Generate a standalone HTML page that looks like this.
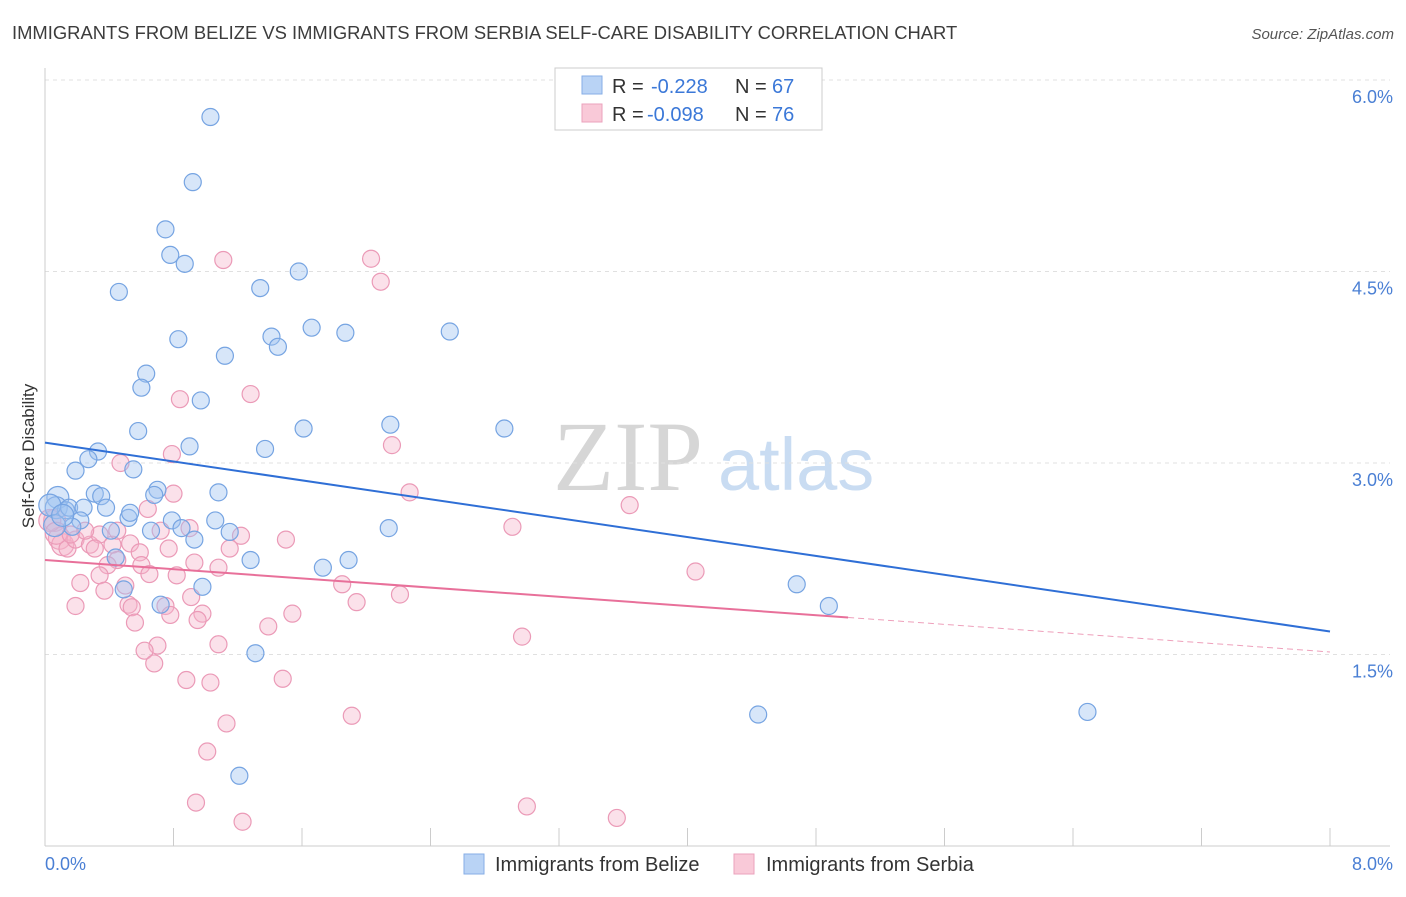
<!DOCTYPE html>
<html><head><meta charset="utf-8"><style>
body{margin:0;background:#fff;font-family:"Liberation Sans",sans-serif;}
</style></head><body>
<svg id="chart" width="1406" height="892" xmlns="http://www.w3.org/2000/svg" font-family="Liberation Sans, sans-serif">
<text x="12" y="39" font-size="18.4" fill="#3c3c3c">IMMIGRANTS FROM BELIZE VS IMMIGRANTS FROM SERBIA SELF-CARE DISABILITY CORRELATION CHART</text>
<text x="1394" y="39" font-size="15" fill="#555" font-style="italic" text-anchor="end">Source: ZipAtlas.com</text>
<g>
<text x="553" y="490" font-size="100" fill="#d6d6d6" font-family="Liberation Serif, serif">ZIP</text>
<text x="718" y="490" font-size="74" fill="#c9dcf2">atlas</text>
</g>
<g id="grid"></g>
<g id="axes"></g>
<g id="pts"></g>
<g id="trend"></g>
<text x="34" y="456" font-size="17" fill="#333" text-anchor="middle" transform="rotate(-90 34 456)">Self-Care Disability</text>
<g>
<rect x="555" y="68" width="267" height="62" fill="#fff" stroke="#ccc"/>
<rect x="582" y="76" width="20" height="18" fill="#b9d3f5" stroke="#86aee6"/>
<rect x="582" y="104" width="20" height="18" fill="#f9c9d8" stroke="#eba2bc"/>
<g font-size="20" fill="#333">
<text x="612" y="93">R =</text>
<text x="651" y="93" fill="#3b78d8">-0.228</text>
<text x="735" y="93">N =</text>
<text x="772" y="93" fill="#3b78d8">67</text>
<text x="612" y="121">R =</text>
<text x="647" y="121" fill="#3b78d8">-0.098</text>
<text x="735" y="121">N =</text>
<text x="772" y="121" fill="#3b78d8">76</text>
</g>
</g>
<g>
<rect x="464" y="854" width="20" height="20" fill="#b9d3f5" stroke="#86aee6"/>
<text x="495" y="871" font-size="20" fill="#333">Immigrants from Belize</text>
<rect x="734" y="854" width="20" height="20" fill="#f9c9d8" stroke="#eba2bc"/>
<text x="766" y="871" font-size="20" fill="#333">Immigrants from Serbia</text>
</g>
</svg>
<script>
const belizeX=[1.03,0.92,0.75,0.78,0.87,0.46,1.34,1.58,0.83,1.41,1.66,1.87,2.52,1.12,1.45,0.63,0.60,0.97,0.58,0.90,0.33,0.27,0.19,0.55,1.37,1.61,2.15,2.86,0.08,0.31,0.35,0.70,0.68,1.08,0.07,0.13,0.15,0.24,0.38,0.52,0.53,0.22,0.17,0.79,1.06,0.66,0.85,0.41,1.15,0.93,2.14,0.44,1.28,1.73,1.89,0.98,0.49,0.72,4.68,4.88,1.31,4.44,6.49,1.21,0.03,0.06,0.11];
const belizeY=[5.71,5.20,4.83,4.63,4.56,4.34,4.37,4.50,3.97,3.99,4.06,4.02,4.03,3.84,3.91,3.70,3.59,3.49,3.25,3.13,3.09,3.03,2.94,2.95,3.11,3.27,3.30,3.27,2.73,2.76,2.74,2.79,2.75,2.77,2.65,2.63,2.65,2.65,2.65,2.57,2.61,2.55,2.50,2.55,2.55,2.47,2.49,2.47,2.46,2.40,2.49,2.26,2.24,2.18,2.24,2.03,2.01,1.89,2.05,1.88,1.51,1.03,1.05,0.55,2.67,2.51,2.59];
const serbiaX=[1.11,2.03,2.09,0.84,1.28,2.16,0.79,0.47,0.80,2.27,0.64,3.64,2.91,0.90,1.22,1.50,0.06,0.09,0.11,0.14,0.19,0.28,0.34,0.42,0.53,0.59,0.77,0.45,0.39,0.60,0.93,1.08,0.34,0.65,0.82,0.22,0.50,1.85,2.21,4.05,0.19,0.52,0.54,0.75,0.91,0.98,0.95,1.54,1.94,0.56,1.39,1.08,0.70,0.62,0.68,1.48,0.88,1.03,2.97,1.13,1.91,1.01,0.94,3.00,1.23,3.56,0.03,0.07,0.25,0.31,0.45,0.72,1.15,0.16,0.37,0.78];
const serbiaY=[4.59,4.60,4.42,3.50,3.54,3.14,3.07,3.00,2.76,2.77,2.64,2.67,2.50,2.49,2.43,2.40,2.55,2.41,2.36,2.33,2.40,2.36,2.44,2.36,2.37,2.30,2.33,2.24,2.20,2.20,2.22,2.18,2.12,2.13,2.12,2.06,2.04,2.05,1.97,2.15,1.88,1.89,1.87,1.88,1.95,1.82,1.77,1.82,1.91,1.75,1.72,1.58,1.57,1.53,1.43,1.31,1.30,1.28,1.64,0.96,1.02,0.74,0.34,0.31,0.19,0.22,2.55,2.45,2.47,2.33,2.47,2.47,2.33,2.44,2.00,1.81];
const yTicks=[1.5,3.0,4.5,6.0];
const yTickLabels=["1.5%","3.0%","4.5%","6.0%"];
const xTicks=[0,0.8,1.6,2.4,3.2,4.0,4.8,5.6,6.4,7.2,8.0];
const xEndLabels=["0.0%","8.0%"];
const belizeTrend=[3.16,1.68];
const serbiaTrend=[2.24,1.52];
const serbiaSolidEnd=5.0;

const NS="http://www.w3.org/2000/svg";
const X0=45,X1=1330,Y0=846,Y6=80;
const sx=v=>X0+(v/8)*(X1-X0);
const sy=v=>Y0-(v/6)*(Y0-Y6);
function mk(tag,attrs,parent){const e=document.createElementNS(NS,tag);for(const k in attrs)e.setAttribute(k,attrs[k]);parent.appendChild(e);return e;}
const grid=document.getElementById('grid'),axes=document.getElementById('axes'),pts=document.getElementById('pts'),trend=document.getElementById('trend');
yTicks.forEach((t,i)=>{
 const l=mk('line',{x1:X0,x2:X1+60,y1:sy(t),y2:sy(t),stroke:'#e0e0e0','stroke-dasharray':'4,4'},grid);
 
 
 const tx=mk('text',{x:1393,y:sy(t)+23,'font-size':18,fill:'#4a7fd4','text-anchor':'end'},grid);
 tx.textContent=yTickLabels[i];
 
 
});
const ax=mk('line',{x1:X0,x2:X0,y1:68,y2:Y0,stroke:'#ccc'},axes);


const bx=mk('line',{x1:X0,x2:X1+60,y1:Y0,y2:Y0,stroke:'#ccc'},axes);


xTicks.forEach(t=>{
 const l=mk('line',{x1:sx(t),x2:sx(t),y1:828,y2:Y0,stroke:'#ccc'},axes);
 
 
});
const xl0=mk('text',{x:45,y:870,'font-size':18,fill:'#4a7fd4'},axes);xl0.textContent=xEndLabels[0];


const xl1=mk('text',{x:1393,y:870,'font-size':18,fill:'#4a7fd4','text-anchor':'end'},axes);xl1.textContent=xEndLabels[1];


function dots(xs,ys,fill,stroke,name){
 xs.forEach((x,i)=>{
  const r=(x<0.12)?11:8.5;
  const c=mk('circle',{cx:sx(x),cy:sy(ys[i]),r:r,fill:fill,stroke:stroke,'stroke-width':1.2},pts);
  
  
 });
}
dots(serbiaX,serbiaY,'rgba(246,180,202,0.4)','#eb9ab7','point-serbia');
dots(belizeX,belizeY,'rgba(160,196,240,0.42)','#76a4e2','point-belize');
const bl=mk('line',{x1:sx(0),y1:sy(belizeTrend[0]),x2:sx(8),y2:sy(belizeTrend[1]),stroke:'#2f6fd6','stroke-width':2},trend);


const sAt=v=>serbiaTrend[0]+(serbiaTrend[1]-serbiaTrend[0])*v/8;
const pl=mk('line',{x1:sx(0),y1:sy(serbiaTrend[0]),x2:sx(serbiaSolidEnd),y2:sy(sAt(serbiaSolidEnd)),stroke:'#e8709a','stroke-width':2},trend);


const pd=mk('line',{x1:sx(serbiaSolidEnd),y1:sy(sAt(serbiaSolidEnd)),x2:sx(8),y2:sy(serbiaTrend[1]),stroke:'#eea0bb','stroke-width':1,'stroke-dasharray':'6,4'},trend);


</script>
</body></html>
